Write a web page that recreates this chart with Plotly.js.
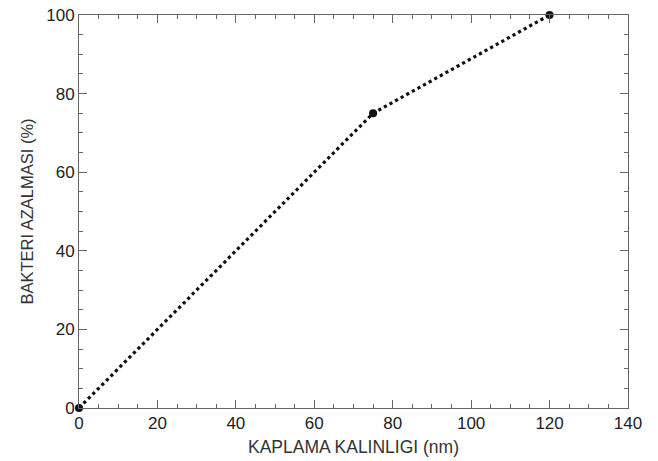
<!DOCTYPE html>
<html>
<head>
<meta charset="utf-8">
<script src="https://cdn.plot.ly/plotly-3.0.1.min.js"></script>
<style>html,body{margin:0;padding:0;background:#fff;}#chart{width:658px;height:461px;}</style>
</head>
<body>
<div id="chart"></div>
<script>
const thickness = [0, 75, 120];
const reduction = [0, 75, 100];
const xTickVals = [0, 20, 40, 60, 80, 100, 120, 140];
const yTickVals = [0, 20, 40, 60, 80, 100];
const xTitle = "KAPLAMA KALINLIGI (nm)";
const yTitle = "BAKTERI AZALMASI (%)";

const FONT = 'Liberation Sans, Arial, sans-serif';

const axisCommon = {
  showgrid: false,
  zeroline: false,
  showline: true,
  linecolor: '#666',
  linewidth: 1,
  mirror: 'allticks',
  ticks: 'inside',
  ticklen: 8,
  tickwidth: 1,
  tickcolor: '#666',
  tickfont: {family: FONT, size: 17, color: '#222'},
  minor: {ticks: 'inside', ticklen: 4, tickcolor: '#666', tickwidth: 1, dtick: 5, showgrid: false}
};

const trace = {
  x: thickness,
  y: reduction,
  mode: 'lines+markers',
  line: {color: '#111', width: 3.2, dash: 'dot'},
  marker: {color: '#111', size: 8, symbol: 'circle'},
  cliponaxis: false,
  hoverinfo: 'none'
};

const layout = {
  width: 658,
  height: 461,
  margin: {l: 79, r: 30, t: 15, b: 53},
  paper_bgcolor: '#fff',
  plot_bgcolor: '#fff',
  showlegend: false,
  xaxis: Object.assign({}, axisCommon, {
    range: [0, 140],
    tickvals: xTickVals,
    ticktext: xTickVals.map(String),
    title: {text: xTitle, font: {family: FONT, size: 17.5, color: '#333'}, standoff: 8}
  }),
  yaxis: Object.assign({}, axisCommon, {
    range: [0, 100],
    tickvals: yTickVals,
    ticktext: yTickVals.map(String),
    title: {text: yTitle, font: {family: FONT, size: 16.5, color: '#333'}, standoff: 8}
  })
};

Plotly.newPlot('chart', [trace], layout, {staticPlot: true, displayModeBar: false});
</script>
</body>
</html>
